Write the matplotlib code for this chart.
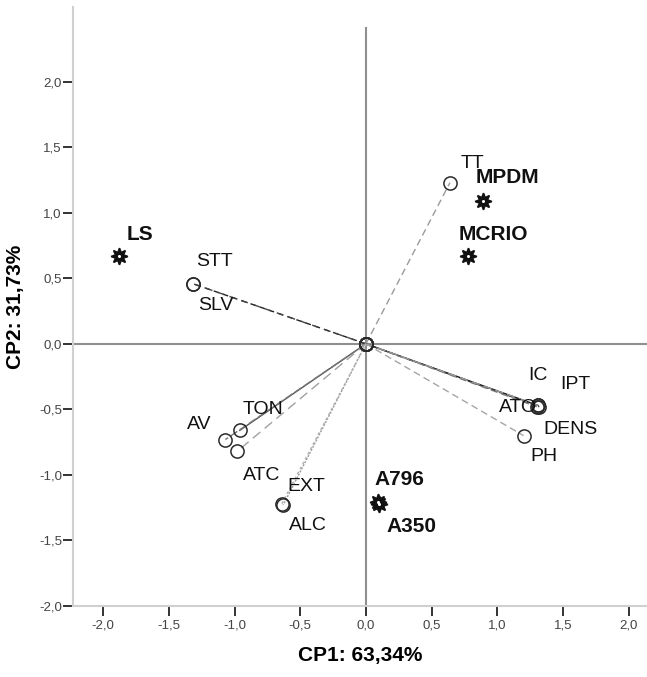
import matplotlib
matplotlib.use("Agg")
import matplotlib.pyplot as plt
from matplotlib.ticker import FuncFormatter

# component loadings of the variables (open circles, drawn as vectors from origin)
var_names = ["TT", "STT", "SLV", "IC", "IPT", "ATO", "DENS", "PH", "TON", "AV", "ATC", "EXT", "ALC"]
var_cp1 = [0.64, -1.32, -1.32, 1.31, 1.32, 1.30, 1.31, 1.20, -0.96, -1.07, -0.98, -0.63, -0.64]
var_cp2 = [1.23, 0.46, 0.46, -0.47, -0.48, -0.48, -0.47, -0.70, -0.66, -0.73, -0.82, -1.23, -1.22]

# scores of the samples (stars)
obs_names = ["LS", "MPDM", "MCRIO", "A796", "A350"]
obs_cp1 = [-1.88, 0.89, 0.78, 0.09, 0.10]
obs_cp2 = [0.67, 1.09, 0.67, -1.21, -1.22]

ticks = [-2.0, -1.5, -1.0, -0.5, 0.0, 0.5, 1.0, 1.5, 2.0]
x_title = "CP1: 63,34%"
y_title = "CP2: 31,73%"

# line style of each vector
vec_style = {
    "TT": ("#9a9a9a", (0, (5, 3))),
    "STT": ("#222222", (0, (4, 3))),
    "SLV": ("#444444", (0, (5, 4))),
    "IC": ("#111111", "-"),
    "IPT": ("#333333", (0, (4, 2))),
    "ATO": ("#777777", (0, (5, 3))),
    "DENS": ("#999999", (0, (6, 3))),
    "PH": ("#a5a5a5", (0, (5, 3))),
    "TON": ("#555555", "-"),
    "AV": ("#777777", (0, (6, 2))),
    "ATC": ("#a0a0a0", (0, (7, 4))),
    "EXT": ("#9a9a9a", (0, (1.5, 1))),
    "ALC": ("#b0b0b0", (0, (2, 2))),
}

# label offsets in pixels: (left edge dx, centre dy upward)
lab_off = {
    "TT": (11, 22), "STT": (4, 25), "SLV": (6, -19), "IC": (-10, 33), "IPT": (21, 25),
    "ATO": (-38, 2), "DENS": (5, -21), "PH": (7, -18), "TON": (3, 24), "AV": (-38, 18),
    "ATC": (6, -21), "EXT": (4, 22), "ALC": (7, -19),
    "LS": (8, 24), "MPDM": (-7, 25), "MCRIO": (-10, 24), "A796": (-3, 25), "A350": (7, -21),
}

plt.rcParams["font.family"] = ["Liberation Sans", "DejaVu Sans"]

fig = plt.figure(figsize=(6.47, 6.77), dpi=100)
ax = fig.add_axes([73 / 647, 71 / 677, 1 - 73 / 647, (606 - 7) / 677])
ax.set_xlim(-2.23, 2.14)
ax.set_ylim(-2.0, 2.57)

ax.axhline(0, color="#8f8f8f", lw=1.5, zorder=1)
ax.axvline(0, ymax=(2.41 + 2.0) / 4.57, color="#8f8f8f", lw=1.5, zorder=1)

for name, x, y in zip(var_names, var_cp1, var_cp2):
    col, ls = vec_style[name]
    ax.plot([0, x], [0, y], color=col, ls=ls, lw=1.0, zorder=2)
    ax.plot([0, x], [0, y], ls="none", marker="o", ms=9.5, mfc="none",
            mec="#2a2a2a", mew=1.1, zorder=3)
    dx, dy = lab_off[name]
    ax.annotate(name, (x, y), xytext=(dx, dy - 7.5), textcoords="offset pixels",
                ha="left", va="baseline", fontsize=14, color="#111111", zorder=4)

for name, x, y in zip(obs_names, obs_cp1, obs_cp2):
    ax.plot(x, y, ls="none", marker=(8, 1, 0), ms=12, mfc="#111111", mec="#111111",
            mew=1.2, zorder=3)
    ax.plot(x, y, ls="none", marker="o", ms=2.2, mfc="white", mec="none", zorder=4)
    dx, dy = lab_off[name]
    ax.annotate(name, (x, y), xytext=(dx, dy - 7.5), textcoords="offset pixels",
                ha="left", va="baseline", fontsize=15, fontweight="bold",
                color="#111111", zorder=4)

for side in ["top", "right"]:
    ax.spines[side].set_visible(False)
for side in ["left", "bottom"]:
    ax.spines[side].set_color("#d0d0d0")
    ax.spines[side].set_linewidth(1.5)

fmt = FuncFormatter(lambda v, p: ("%.1f" % v).replace(".", ","))
ax.set_xticks(ticks)
ax.set_yticks(ticks)
ax.xaxis.set_major_formatter(fmt)
ax.yaxis.set_major_formatter(fmt)
ax.tick_params(axis="both", direction="out", length=7, width=1.4, color="#333333",
               labelsize=9.5, labelcolor="#444444")
ax.tick_params(axis="x", pad=3)
ax.tick_params(axis="y", pad=1)

ax.set_xlabel(x_title, fontsize=15, fontweight="bold", labelpad=10)
ax.set_ylabel(y_title, fontsize=15, fontweight="bold", labelpad=10)

fig.savefig("out.png", dpi=100)
